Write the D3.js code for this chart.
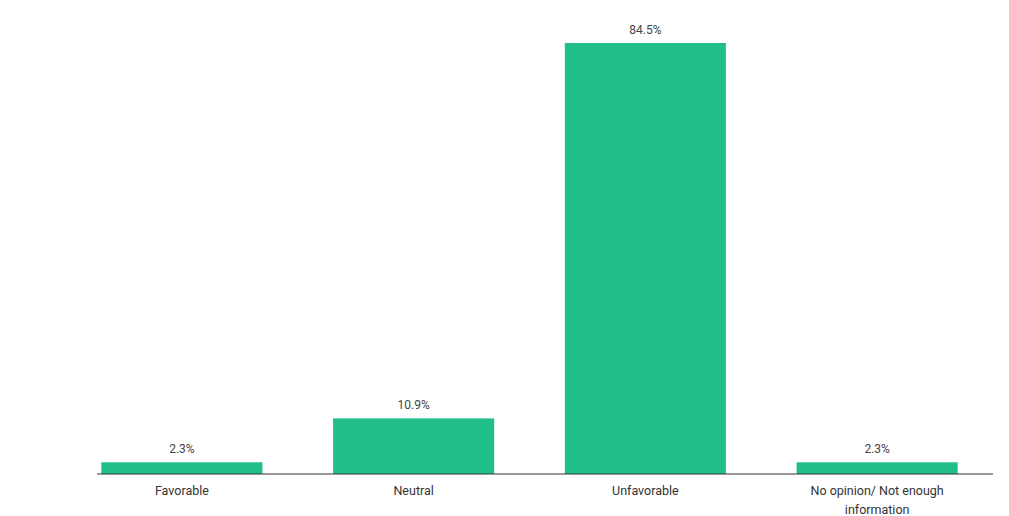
<!DOCTYPE html>
<html>
<head>
<meta charset="utf-8">
<script src="https://cdn.jsdelivr.net/npm/d3@7"></script>
<style>
  body { margin: 0; background: #fff; }
  svg { display: block; font-family: Roboto, "Noto Sans", sans-serif; }
</style>
</head>
<body>
<svg id="chart"></svg>
<script>
// chart data
const categories = ["Favorable", "Neutral", "Unfavorable", "No opinion/ Not enough information"];
const values = [2.3, 10.9, 84.5, 2.3];
const valueLabels = ["2.3%", "10.9%", "84.5%", "2.3%"];

const W = 1009, H = 516;
const baseY = 474;

const svg = d3.select("#chart").attr("width", W).attr("height", H);

// scales
const x = d3.scaleBand()
    .domain(categories)
    .range([66, 993])
    .paddingInner(0.305)
    .paddingOuter(0.1525);
const y = d3.scaleLinear()
    .domain([0, 84.5])
    .range([baseY, 43]);

// bars
svg.selectAll(".bar")
  .data(categories)
  .enter().append("rect")
    .attr("class", "bar")
    .attr("x", d => x(d))
    .attr("y", (d, i) => y(values[i]))
    .attr("width", x.bandwidth())
    .attr("height", (d, i) => baseY - y(values[i]))
    .attr("fill", "#20bf87");

// value labels
svg.selectAll(".val")
  .data(categories)
  .enter().append("text")
    .attr("class", "val")
    .attr("x", d => x(d) + x.bandwidth() / 2)
    .attr("y", (d, i) => y(values[i]) - 9)
    .attr("text-anchor", "middle")
    .style("font-size", "12px")
    .style("fill", "#444")
    .text((d, i) => valueLabels[i]);

// x axis
const xAxis = svg.append("g")
    .attr("transform", "translate(0," + baseY + ")")
    .call(d3.axisBottom(x).tickSize(0).tickPadding(12));
xAxis.select(".domain").remove();
xAxis.append("line")
    .attr("x1", 97).attr("x2", 993)
    .attr("stroke", "#333").attr("stroke-width", 1.2);
xAxis.selectAll(".tick text")
    .style("font-family", "Roboto, 'Noto Sans', sans-serif")
    .style("font-size", "12.5px")
    .style("fill", "#333")
    .each(function(d) {
        // wrap long labels onto two lines
        if (d.length > 20) {
            const t = d3.select(this);
            t.text(null);
            t.append("tspan").attr("x", 0).attr("dy", "0.71em").text("No opinion/ Not enough");
            t.append("tspan").attr("x", 0).attr("dy", "1.5em").text("information");
        }
    });
</script>
</body>
</html>
